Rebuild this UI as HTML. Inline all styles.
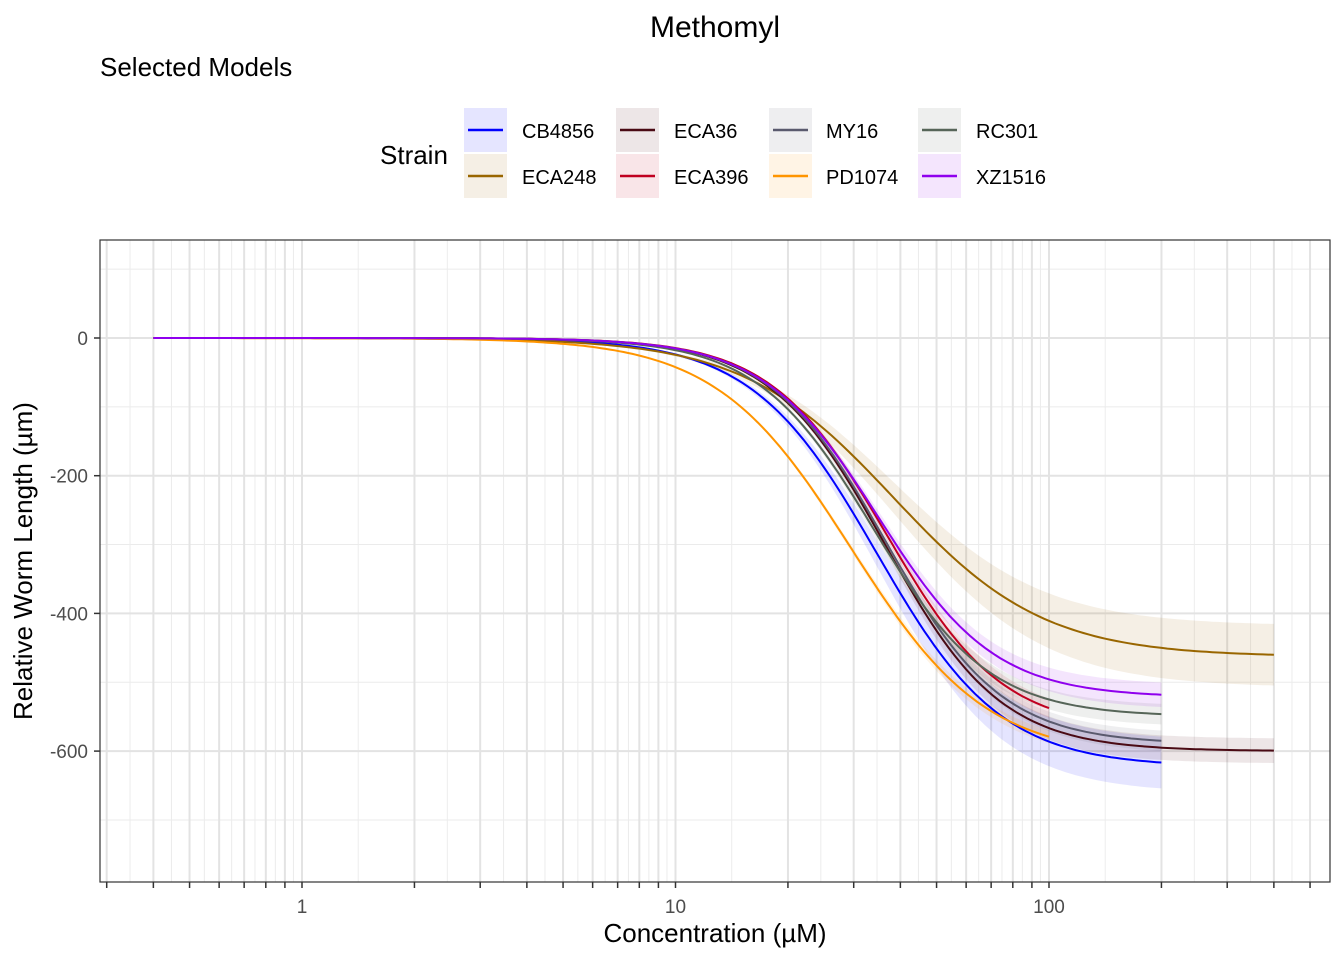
<!DOCTYPE html>
<html><head><meta charset="utf-8"><style>
body{margin:0;background:#fff;font-family:"Liberation Sans",Arial,sans-serif}
svg text{font-family:"Liberation Sans",Arial,sans-serif}
</style></head><body>
<svg id="c" width="1344" height="960" xmlns="http://www.w3.org/2000/svg">
<text x="715" y="37" font-size="30" text-anchor="middle">Methomyl</text>
<text x="100" y="76" font-size="26">Selected Models</text>
<text x="380" y="164" font-size="26">Strain</text>
<g id="legend"></g>
<g id="grid"></g>
<g id="ribbons"></g>
<g id="lines"></g>
<rect x="100" y="240" width="1230" height="642" fill="none" stroke="#333" stroke-width="1.2"/>
<g id="axes"></g>
<text x="715" y="942" font-size="26" text-anchor="middle">Concentration (µM)</text>
<text transform="translate(32,561) rotate(-90)" font-size="26" text-anchor="middle">Relative Worm Length (µm)</text>
</svg>
<script>
const strains=["CB4856","ECA248","ECA36","ECA396","MY16","PD1074","RC301","XZ1516"];
const colors=["#0000ff","#996600","#4a0a14","#c00020","#5a5a6e","#ff9500","#566558","#8f00ee"];
const lowerAsym=[-623,-463,-600,-570,-590,-610,-550,-522];
const ec50=[34.5,38.3,36.4,36.7,36.5,29.5,33.7,35];
const slope=[2.6,2.15,2.8,2.8,2.8,2.4,2.8,2.8];
const asym=[1,1,1,1,1,1,1,1];
const maxConc=[200,400,400,100,200,100,200,200];
const ciHalf=[38,45,18,15,15,10,15,18];
const minConc=0.4;
const yTicks=[0,-200,-400,-600];
const yMinor=[100,-100,-300,-500,-700];
const xTickVals=[0.3,0.4,0.5,0.6,0.7,0.8,0.9,1,2,3,4,5,6,7,8,9,10,20,30,40,50,60,70,80,90,100,200,300,400,500];
const xLabels=[1,10,100];

const NS="http://www.w3.org/2000/svg";
const X=v=>302+373.5*Math.log10(v);
const Y=v=>338-v*0.6885;
function mk(tag,attrs,parent){const e=document.createElementNS(NS,tag);for(const k in attrs)e.setAttribute(k,attrs[k]);parent.appendChild(e);return e;}
const grid=document.getElementById('grid'),axes=document.getElementById('axes');
function model(i,x){return lowerAsym[i]/Math.pow(1+Math.pow(ec50[i]/x,slope[i]),asym[i]);}
yMinor.forEach(v=>{const l=mk('line',{x1:100,x2:1330,y1:Y(v),y2:Y(v),stroke:'#ebebeb','stroke-width':1},grid);});
for(let i=0;i<xTickVals.length-1;i++){const m=Math.sqrt(xTickVals[i]*xTickVals[i+1]);const l=mk('line',{x1:X(m),x2:X(m),y1:240,y2:882,stroke:'#ececec','stroke-width':1},grid);}
yTicks.forEach(v=>{const l=mk('line',{x1:100,x2:1330,y1:Y(v),y2:Y(v),stroke:'#e3e3e3','stroke-width':2},grid);
const t=mk('text',{x:88,y:Y(v)+7,'font-size':19,'text-anchor':'end',fill:'#4d4d4d'},axes);t.textContent=v;
const tk=mk('line',{x1:94,x2:100,y1:Y(v),y2:Y(v),stroke:'#333','stroke-width':1.5},axes);});
xTickVals.forEach(v=>{const l=mk('line',{x1:X(v),x2:X(v),y1:240,y2:882,stroke:'#e3e3e3','stroke-width':2},grid);
const tk=mk('line',{x1:X(v),x2:X(v),y1:882,y2:888,stroke:'#333','stroke-width':1.5},axes);});
xLabels.forEach(v=>{const t=mk('text',{x:X(v),y:913,'font-size':19,'text-anchor':'middle',fill:'#4d4d4d'},axes);t.textContent=v;});
const rib=document.getElementById('ribbons'),lin=document.getElementById('lines');
strains.forEach((s,i)=>{
 const pts=[],up=[],lo=[];const N=200;const a=Math.log10(minConc),b=Math.log10(maxConc[i]);
 for(let k=0;k<=N;k++){const x=Math.pow(10,a+(b-a)*k/N);const y=model(i,x);const f=y/lowerAsym[i];
  pts.push(X(x).toFixed(1)+','+Y(y).toFixed(1));up.push(X(x).toFixed(1)+','+Y(y+ciHalf[i]*f).toFixed(1));lo.push(X(x).toFixed(1)+','+Y(y-ciHalf[i]*f).toFixed(1));}
 const r=mk('polygon',{points:up.concat(lo.reverse()).join(' '),fill:colors[i],'fill-opacity':0.1},rib);
 
 const p=mk('polyline',{points:pts.join(' '),fill:'none',stroke:colors[i],'stroke-width':2},lin);
 
});
const lg=document.getElementById('legend');
strains.forEach((s,i)=>{const col=Math.floor(i/2),row=i%2;const kx=[464,616,769,918][col],ky=108+row*46;const tx=[522,674,826,976][col];
 const g=mk('g',{},lg);
 mk('rect',{x:kx,y:ky,width:43,height:44,fill:colors[i],'fill-opacity':0.1},g);
 mk('line',{x1:kx+4,x2:kx+39,y1:ky+22,y2:ky+22,stroke:colors[i],'stroke-width':2.5},g);
 const t=mk('text',{x:tx,y:ky+30,'font-size':20},g);t.textContent=s;});
</script>
</body></html>
